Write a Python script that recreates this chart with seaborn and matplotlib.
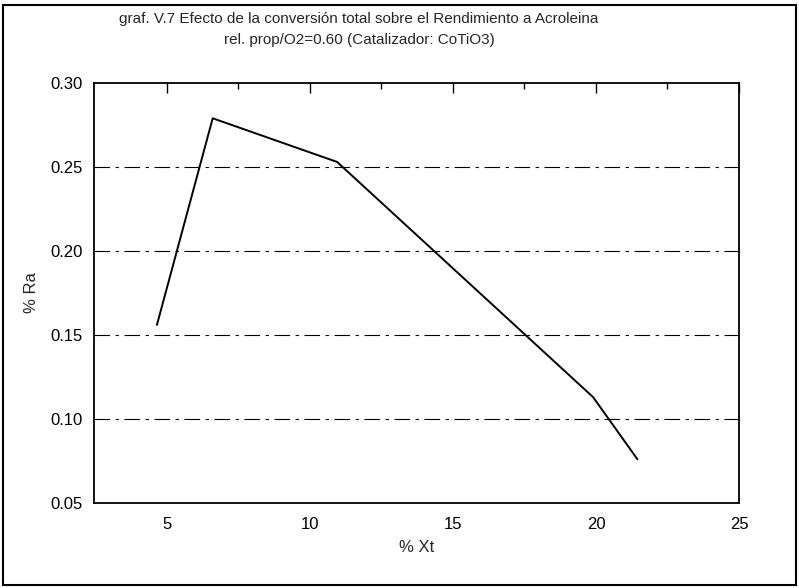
import numpy as np
import pandas as pd
import matplotlib
matplotlib.use('Agg')
import matplotlib.pyplot as plt
import seaborn as sns
from matplotlib.patches import Rectangle

# datos
xt = [4.65, 6.6, 10.95, 19.9, 21.45]
ra = [0.156, 0.279, 0.253, 0.113, 0.076]
titulo = ('graf. V.7 Efecto de la conversión total sobre el Rendimiento a Acroleina\n'
          'rel. prop/O2=0.60 (Catalizador: CoTiO3)')
xticks = [5, 10, 15, 20, 25]
yticks = [0.05, 0.10, 0.15, 0.20, 0.25, 0.30]

df = pd.DataFrame({'Xt': xt, 'Ra': ra})

sns.set_style('white')
plt.rcParams['font.family'] = ['Liberation Sans', 'DejaVu Sans']

fig = plt.figure(figsize=(7.99, 5.88), dpi=100)
ax = fig.add_axes([94/799, 1 - 503/588, (739-94)/799, (503-83)/588])

sns.lineplot(data=df, x='Xt', y='Ra', ax=ax, color='black', linewidth=1.4,
             sort=False, estimator=None)

# lineas horizontales de referencia
for y in yticks[1:-1]:
    ax.axhline(y, color='black', linewidth=0.8, linestyle=(0, (14, 5, 3, 5)), zorder=0)

ax.set_xlim(2.45, 25)
ax.set_ylim(0.05, 0.30)
ax.set_xticks(xticks)
ax.set_yticks(yticks)
ax.set_xticks(np.arange(7.5, 25, 5), minor=True)
ax.set_yticks(np.arange(0.075, 0.30, 0.05), minor=True)
ax.set_xticklabels([str(t) for t in xticks])
ax.set_yticklabels(['%.2f' % t for t in yticks])
ax.tick_params(which='both', direction='in', top=True, right=False, colors='black',
               labelsize=12, pad=8)
ax.tick_params(axis='x', pad=10)
ax.tick_params(which='major', length=7, width=1)
ax.tick_params(which='minor', length=4, width=1)
for s in ax.spines.values():
    s.set_color('black')
    s.set_linewidth(1.3)

ax.set_xlabel('% Xt', fontsize=12, labelpad=6)
ax.set_ylabel('% Ra', fontsize=12, labelpad=8)
fig.suptitle(titulo, fontsize=11, x=359/799, y=0.98, linespacing=1.65)

# marco exterior
fig.patches.append(Rectangle((3/799, 3/588), 793/799, 580/588, transform=fig.transFigure,
                             fill=False, edgecolor='black', linewidth=1.5))

fig.savefig('out.png', dpi=100)
